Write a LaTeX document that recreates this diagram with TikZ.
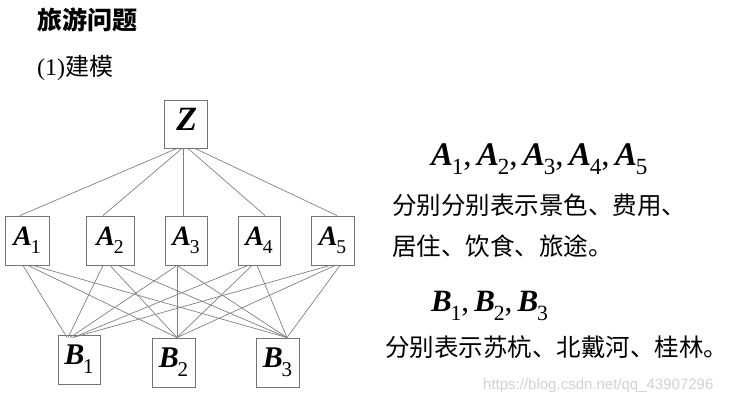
\documentclass[tikz,border=0pt]{standalone}
\usepackage{fontspec}
\setmainfont{Liberation Serif}
\newfontfamily\cjk{Noto Sans CJK SC}
\newfontfamily\wmfont{Liberation Sans}
\usetikzlibrary{calc}
\newcommand\lbl[2]{{\bfseries\itshape #1}\kern-0.04em\raisebox{-0.3em}{\scalebox{0.7}{\mdseries\upshape #2}}}
\newcommand\cm{{\mdseries\upshape,}\,}
\tikzset{
  box/.style={draw=black!55, line width=0.9pt, inner sep=0pt, fill=white},
  link/.style={draw=black!50, line width=0.7pt},
  cjktext/.style={inner sep=0pt, anchor=base west, font=\cjk\fontsize{24.5}{28}\selectfont},
}
\begin{document}
\begin{tikzpicture}[x=1pt,y=1pt]
\useasboundingbox (0,0) rectangle (736,-402);
% titles
\node[cjktext, font=\cjk\bfseries\fontsize{25}{28}\selectfont] (title) at (37,-29) {旅游问题};
\node[cjktext, font=\fontsize{24}{28}\selectfont] (sub) at (37,-75) {(1){\cjk 建模}};
% boxes
\node[box, minimum width=43pt, minimum height=48pt, font=\fontsize{34}{36}\selectfont] (Z) at (186,-124) {\lbl{Z}{}};
\node[box, minimum width=44pt, minimum height=49pt, font=\fontsize{28}{30}\selectfont] (A1) at (27,-240.5) {\lbl{A}{1}};
\node[box, minimum width=48pt, minimum height=49pt, font=\fontsize{28}{30}\selectfont] (A2) at (110,-240.5) {\lbl{A}{2}};
\node[box, minimum width=42pt, minimum height=49pt, font=\fontsize{28}{30}\selectfont] (A3) at (186,-240.5) {\lbl{A}{3}};
\node[box, minimum width=42pt, minimum height=49pt, font=\fontsize{28}{30}\selectfont] (A4) at (259,-240.5) {\lbl{A}{4}};
\node[box, minimum width=43pt, minimum height=49pt, font=\fontsize{28}{30}\selectfont] (A5) at (332.5,-240.5) {\lbl{A}{5}};
\node[box, minimum width=42pt, minimum height=49pt, font=\fontsize{30}{32}\selectfont] (B1) at (79,-359.5) {\lbl{B}{1}};
\node[box, minimum width=43pt, minimum height=49pt, font=\fontsize{30}{32}\selectfont] (B2) at (173.5,-362.5) {\lbl{B}{2}};
\node[box, minimum width=43pt, minimum height=49pt, font=\fontsize{30}{32}\selectfont] (B3) at (277.5,-362.5) {\lbl{B}{3}};
% Z to A
\draw[link] ($(Z.south)+(-9,0)$) -- ($(A1.north)+(-7,0)$);
\draw[link] ($(Z.south)+(-4,0)$) -- ($(A2.north)+(-7,0)$);
\draw[link] ($(Z.south)+(-3,0)$) -- ($(A3.north)+(-3,0)$);
\draw[link] ($(Z.south)+(2,0)$) -- ($(A4.north)+(6,0)$);
\draw[link] ($(Z.south)+(9,0)$) -- ($(A5.north)+(4.5,0)$);
% A to B
\draw[link] ($(A1.south)+(-4,0)$) -- ($(B1.north)+(-12,-3)$);
\draw[link] ($(A1.south)+(1,0)$) -- ($(B2.north)+(3.5,0)$);
\draw[link] ($(A1.south)+(6,0)$) -- ($(B3.north)+(9.5,0)$);
\draw[link] ($(A2.south)+(-7,0)$) -- ($(B1.north)+(-11,-3)$);
\draw[link] ($(A2.south)+(0,0)$) -- ($(B2.north)+(3.5,0)$);
\draw[link] ($(A2.south)+(8,0)$) -- ($(B3.north)+(9.5,0)$);
\draw[link] ($(A3.south)+(-9,0)$) -- ($(B1.north)+(-9,-3)$);
\draw[link] ($(A3.south)+(-9,0)$) -- ($(B2.north)+(3.5,0)$);
\draw[link] ($(A3.south)+(-9,0)$) -- ($(B3.north)+(9.5,0)$);
\draw[link] ($(A4.south)+(-11,0)$) -- ($(B1.north)+(-6,-3)$);
\draw[link] ($(A4.south)+(-7,0)$) -- ($(B2.north)+(3.5,0)$);
\draw[link] ($(A4.south)+(-2,0)$) -- ($(B3.north)+(9.5,0)$);
\draw[link] ($(A5.south)+(-2.5,0)$) -- ($(B1.north)+(-6,-3)$);
\draw[link] ($(A5.south)+(2.5,0)$) -- ($(B2.north)+(3.5,0)$);
\draw[link] ($(A5.south)+(7.5,0)$) -- ($(B3.north)+(9.5,0)$);
% right texts
\node[inner sep=0pt, anchor=base west, font=\fontsize{33}{36}\selectfont] (alist) at (431,-165) {\lbl{A}{1}\cm\lbl{A}{2}\cm\lbl{A}{3}\cm\lbl{A}{4}\cm\lbl{A}{5}};
\node[cjktext] (l1) at (392,-214) {分别分别表示景色、费用、};
\node[cjktext] (l2) at (392,-255) {居住、饮食、旅途。};
\node[inner sep=0pt, anchor=base west, font=\fontsize{31}{34}\selectfont] (blist) at (431,-311) {\lbl{B}{1}\cm\lbl{B}{2}\cm\lbl{B}{3}};
\node[cjktext] (l3) at (385,-356) {分别表示苏杭、北戴河、桂林。};
\node[inner sep=0pt, anchor=base west, text=gray!35, font=\wmfont\fontsize{15}{17}\selectfont] (wm) at (483,-389) {https://blog.csdn.net/qq\_43907296};
\end{tikzpicture}
\end{document}
